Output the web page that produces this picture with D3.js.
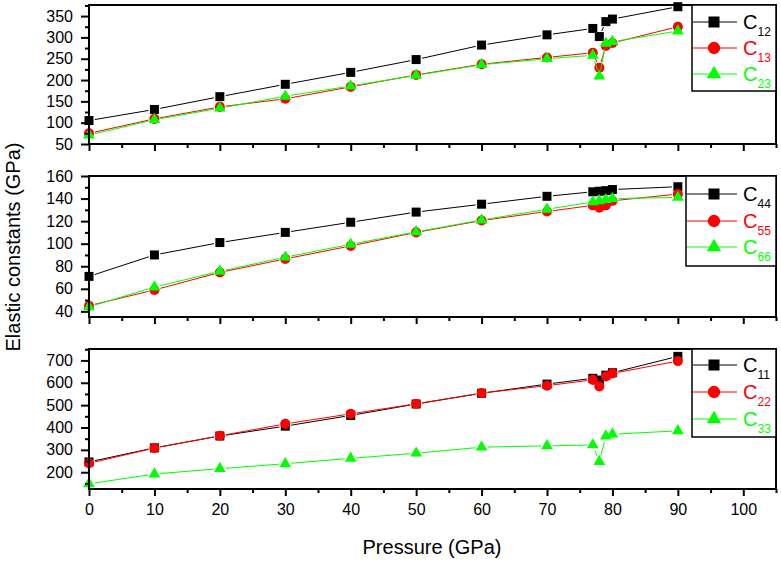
<!DOCTYPE html>
<html>
<head>
<meta charset="utf-8">
<script src="https://cdn.jsdelivr.net/npm/d3@7/dist/d3.min.js"></script>
<style>
  body { margin: 0; background: #fff; }
  svg { display: block; font-family: "Liberation Sans", Arial, sans-serif; }
</style>
</head>
<body>
<script>
// pressure points (GPa)
var pressure = [0, 10, 20, 30, 40, 50, 60, 70, 77, 78, 79, 80, 90];

// top panel
var c12 = [105, 131, 161, 190, 218, 248, 282, 306, 321, 302, 337, 343, 372];
var c13 = [75, 109, 137, 156, 184, 212, 237, 253, 264, 229, 280, 287, 325];
var c23 = [71, 107, 134, 162, 186, 211, 236, 250, 258, 209, 286, 290, 315];

// middle panel
var c44 = [71, 90, 101, 110, 119, 128, 135, 142, 146, 146.5, 147, 148, 150.5];
var c55 = [45, 59, 74.5, 86.5, 98, 110, 120.5, 128.5, 134, 132, 134, 138, 144];
var c66 = [44, 61.5, 75.5, 88, 99.5, 110.5, 121, 130.5, 137, 138, 139, 140, 141];

// bottom panel
var c11 = [246, 309, 362, 406, 454, 505, 553, 594, 620, 612, 634, 645, 718];
var c22 = [240, 308, 363, 416, 461, 506, 554, 587, 613, 584, 628, 642, 697];
var c33 = [148, 192, 216, 238, 262, 285, 312, 318, 322, 248, 362, 370, 385];

var xTicks = [0, 10, 20, 30, 40, 50, 60, 70, 80, 90, 100];
var xMinor = [5, 15, 25, 35, 45, 55, 65, 75, 85, 95, 105];

var colors = ['#000000', '#ff0000', '#00ff00'];
var shapes = [d3.symbolSquare, d3.symbolCircle, d3.symbolTriangle];
var sizes = [81, 80, 60];

var panels = [
	{ domain: [50, 376], range: [144, 5], ticks: [50, 100, 150, 200, 250, 300, 350],
	  minor: [75, 125, 175, 225, 275, 325, 375], series: [c12, c13, c23], names: ['12', '13', '23'],
	  legend: { x: 692, y: 5, w: 84, h: 86, rows: [22, 48, 74] } },
	{ domain: [35, 160], range: [317, 176], ticks: [40, 60, 80, 100, 120, 140, 160],
	  minor: [50, 70, 90, 110, 130, 150], series: [c44, c55, c66], names: ['44', '55', '66'],
	  legend: { x: 686, y: 176, w: 90, h: 90, rows: [194, 221, 247] } },
	{ domain: [125, 751], range: [489, 349], ticks: [200, 300, 400, 500, 600, 700],
	  minor: [150, 250, 350, 450, 550, 650, 750], series: [c11, c22, c33], names: ['11', '22', '33'],
	  legend: { x: 692, y: 349, w: 84, h: 88, rows: [365, 392, 419] } }
];

var width = 781, height = 562;
var svg = d3.select('body').append('svg')
	.attr('width', width)
	.attr('height', height);

var x = d3.scaleLinear().domain([0, 105]).range([89, 776]);

function drawMarker(g, shape, size, color, px, py) {
	g.append('path')
		.attr('d', d3.symbol().type(shape).size(size)())
		.attr('transform', 'translate(' + px + ',' + py + ')')
		.attr('fill', color);
}

panels.forEach(function(panel, pi) {
	var y = d3.scaleLinear().domain(panel.domain).range(panel.range);
	var g = svg.append('g');
	var top = panel.range[1], bottom = panel.range[0];

	// series: segments with a small gap around each marker
	panel.series.forEach(function(vals, si) {
		var pts = pressure.map(function(p, i) { return [x(p), y(vals[i])]; });
		var gap = 6;
		for (var i = 0; i < pts.length - 1; i++) {
			var a = pts[i], b = pts[i + 1];
			var dx = b[0] - a[0], dy = b[1] - a[1];
			var len = Math.sqrt(dx * dx + dy * dy);
			if (len <= 2 * gap) continue;
			var ux = dx / len, uy = dy / len;
			g.append('line')
				.attr('x1', a[0] + ux * gap).attr('y1', a[1] + uy * gap)
				.attr('x2', b[0] - ux * gap).attr('y2', b[1] - uy * gap)
				.attr('stroke', colors[si])
				.attr('stroke-width', 1);
		}
		pts.forEach(function(pt) {
			drawMarker(g, shapes[si], sizes[si], colors[si], pt[0], pt[1]);
		});
	});

	// frame
	g.append('rect')
		.attr('x', x(0)).attr('y', top)
		.attr('width', x(105) - x(0)).attr('height', bottom - top)
		.attr('fill', 'none')
		.attr('stroke', '#000')
		.attr('stroke-width', 2);

	// y axis
	var yAxis = g.append('g').attr('transform', 'translate(' + x(0) + ',0)');
	yAxis.call(d3.axisLeft(y).tickValues(panel.ticks).tickSize(8).tickPadding(8));
	yAxis.append('g').call(d3.axisLeft(y).tickValues(panel.minor).tickSize(4).tickFormat(''));
	yAxis.selectAll('.domain').remove();
	yAxis.selectAll('line').attr('stroke-width', 2);
	yAxis.selectAll('text').attr('font-size', 16).attr('fill', '#000')
		.attr('font-family', '"Liberation Sans", Arial, sans-serif');

	// x axis
	var xAxis = g.append('g').attr('transform', 'translate(0,' + bottom + ')');
	xAxis.call(d3.axisBottom(x).tickValues(xTicks).tickSize(7).tickPadding(8)
		.tickFormat(pi === 2 ? d3.format('d') : ''));
	xAxis.append('g').call(d3.axisBottom(x).tickValues(xMinor).tickSize(4).tickFormat(''));
	xAxis.selectAll('.domain').remove();
	xAxis.selectAll('line').attr('stroke-width', 2);
	xAxis.selectAll('text').attr('font-size', 16).attr('fill', '#000')
		.attr('font-family', '"Liberation Sans", Arial, sans-serif');

	// legend
	var lg = panel.legend;
	var leg = g.append('g');
	leg.append('rect')
		.attr('x', lg.x).attr('y', lg.y).attr('width', lg.w).attr('height', lg.h)
		.attr('fill', '#fff').attr('stroke', '#000').attr('stroke-width', 1.5);
	panel.names.forEach(function(name, si) {
		var ry = lg.rows[si];
		leg.append('line')
			.attr('x1', lg.x + 1).attr('x2', 737).attr('y1', ry).attr('y2', ry)
			.attr('stroke', colors[si]).attr('stroke-width', 1);
		drawMarker(leg, shapes[si], sizes[si] * 1.5, colors[si], 714, ry);
		var t = leg.append('text')
			.attr('x', 743).attr('y', ry + 7)
			.attr('fill', colors[si])
			.attr('font-size', 20);
		t.append('tspan').text('C');
		t.append('tspan').attr('dy', 7).attr('font-size', 12).text(name);
	});
});

// axis titles
svg.append('text')
	.attr('x', 432).attr('y', 554)
	.attr('text-anchor', 'middle')
	.attr('font-size', 20)
	.text('Pressure (GPa)');

svg.append('text')
	.attr('transform', 'translate(20,247) rotate(-90)')
	.attr('text-anchor', 'middle')
	.attr('font-size', 20)
	.text('Elastic constants (GPa)');
</script>
</body>
</html>
